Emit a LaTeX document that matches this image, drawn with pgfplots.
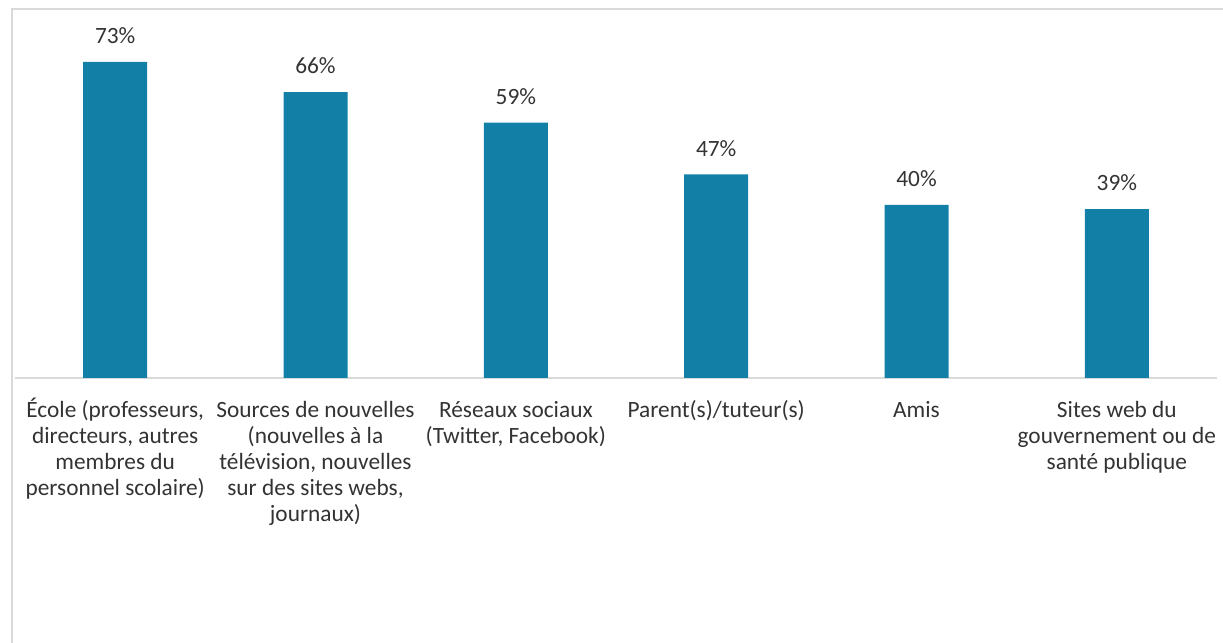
\documentclass[border=0pt]{standalone}
\usepackage{fontspec}
\setmainfont{Carlito}
\usepackage{pgfplots}
\pgfplotsset{compat=1.18}
\definecolor{barblue}{HTML}{127FA7}
\definecolor{framegray}{HTML}{D9D9D9}
\definecolor{txt}{HTML}{333333}
\newcommand{\lblfont}{\fontsize{17.5}{19.5}\selectfont}
\newcommand{\fs}{\rule{0pt}{15pt}}
\begin{document}
\begin{tikzpicture}
\useasboundingbox (0pt,0pt) rectangle (917.25pt,481.5pt);
\draw[framegray, line width=1.5pt] (9pt,-5pt) -- (9pt,474.75pt) -- (925pt,474.75pt);
\begin{axis}[
  at={(11.25pt,198pt)}, anchor=south west,
  scale only axis, width=901.5pt, height=259.8pt,
  xmin=-0.5, xmax=5.5, ymin=0, ymax=80,
  axis x line*=bottom, axis y line=none,
  x axis line style={draw=framegray, line width=1.2pt, -},
  clip=false,
  ybar, bar width=48pt,
  xtick={0,1,2,3,4,5},
  major tick length=0pt,
  xticklabels={
    {\fs École (professeurs,\\directeurs, autres\\membres du\\personnel scolaire)},
    {\fs Sources de nouvelles\\(nouvelles à la\\télévision, nouvelles\\sur des sites webs,\\journaux)},
    {\fs Réseaux sociaux\\(Twitter, Facebook)},
    {\fs Parent(s)/tuteur(s)},
    {\fs Amis},
    {\fs Sites web du\\gouvernement ou de\\santé publique}
  },
  x tick label style={font=\lblfont, text=txt, align=center, anchor=north, inner sep=0pt, yshift=-14.25pt},
  /pgf/number format/assume math mode=true,
  nodes near coords={\pgfmathprintnumber{\pgfplotspointmeta}\%},
  every node near coord/.append style={font=\lblfont, text=txt, anchor=south, inner sep=0pt, text depth=0pt, yshift=13.5pt},
]
\addplot[fill=barblue, draw=none] coordinates {(0,73) (1,66) (2,59) (3,47) (4,40) (5,39)};
\end{axis}
\end{tikzpicture}
\end{document}
